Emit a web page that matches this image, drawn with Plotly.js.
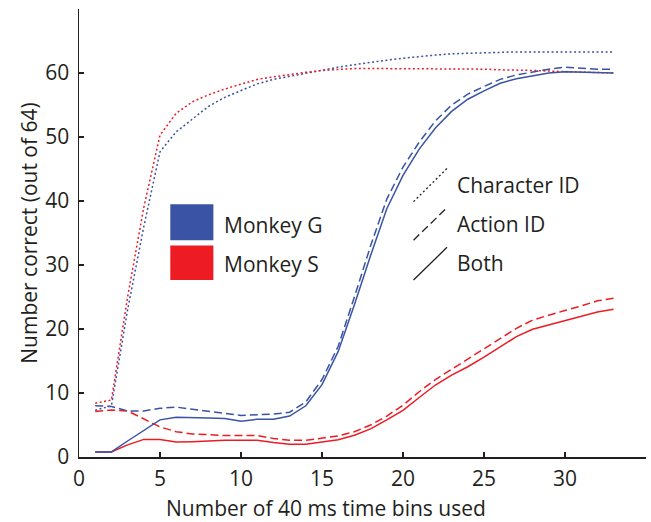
<!DOCTYPE html>
<html>
<head>
<meta charset="utf-8">
<script src="https://cdn.plot.ly/plotly-3.0.1.min.js"></script>
<style>html,body{margin:0;padding:0;background:#fff;}#chart{width:651px;height:522px;}</style>
</head>
<body>
<div id="chart"></div>
<script>
const bins = [1,2,3,4,5,6,7,8,9,10,11,12,13,14,15,16,17,18,19,20,21,22,23,24,25,26,27,28,29,30,31,32,33];

const gChar = [7.3,8.0,23,36,47.7,50.8,52.8,54.8,56.2,57.3,58.3,59.0,59.5,60.0,60.4,60.9,61.3,61.7,62.0,62.3,62.6,62.8,63.0,63.1,63.2,63.3,63.3,63.3,63.3,63.3,63.3,63.3,63.3];
const gAction = [8.0,7.9,7.2,7.2,7.6,7.8,7.45,7.1,6.8,6.5,6.6,6.7,7.0,8.6,12.1,17.3,25.0,33.0,40.3,45.3,49.2,52.5,55.0,56.7,57.9,59.0,59.7,60.2,60.6,60.9,60.7,60.6,60.6];
const gBoth = [0.8,0.8,2.5,4.2,5.8,6.2,6.2,6.1,6.0,5.6,5.9,5.9,6.4,8.0,11.3,16.5,23.8,31.5,38.8,44.0,48.1,51.4,54.0,55.9,57.2,58.4,59.1,59.6,60.0,60.2,60.1,60.0,60.0];

const sChar = [8.4,8.9,25,39,50.3,53.7,55.5,56.6,57.5,58.3,59.0,59.4,59.8,60.1,60.4,60.6,60.7,60.7,60.7,60.7,60.7,60.7,60.6,60.6,60.6,60.5,60.5,60.4,60.3,60.2,60.1,60.0,60.0];
const sAction = [7.1,7.35,7.2,6.0,4.7,3.95,3.6,3.5,3.35,3.35,3.35,2.9,2.6,2.6,2.9,3.3,3.95,5.0,6.4,8.1,10.2,12.1,13.7,15.3,17.0,18.5,20.1,21.4,22.2,22.9,23.6,24.4,24.8];
const sBoth = [0.8,0.8,1.9,2.75,2.75,2.35,2.4,2.55,2.6,2.6,2.6,2.25,2.0,2.0,2.3,2.7,3.4,4.4,5.8,7.3,9.3,11.25,12.8,14.1,15.6,17.2,18.8,19.95,20.6,21.3,21.9,22.65,23.1];

const xTicks = [0,5,10,15,20,25,30,35];
const xTickText = ['0','5','10','15','20','25','30',''];
const yTicks = [0,10,20,30,40,50,60,70];
const yTickText = ['0','10','20','30','40','50','60',''];

const xTitle = 'Number of 40 ms time bins used';
const yTitle = 'Number correct (out of 64)';
const monkeys = ['Monkey G','Monkey S'];
const measures = ['Character ID','Action ID','Both'];

const BLUE = '#3a53a4';
const RED = '#ed1c24';
const INK = '#231f20';
const DOT = '2px,2.5px';
const DASH = '8px,4px';
const FAM = '"Open Sans", "Noto Sans", sans-serif';
const FS = 21;

function tr(y, color, dash) {
  return {x: bins, y: y, mode: 'lines', line: {color: color, width: 1.5, dash: dash}, hoverinfo: 'skip', showlegend: false};
}

const data = [
  tr(gChar, BLUE, DOT), tr(sChar, RED, DOT),
  tr(sAction, RED, DASH), tr(sBoth, RED, 'solid'),
  tr(gAction, BLUE, DASH), tr(gBoth, BLUE, 'solid')
];

const txt = {family: FAM, size: FS, color: INK};

function label(x, y, text, anchor) {
  return {xref: 'paper', yref: 'paper', x: x, y: y, text: text, showarrow: false, xanchor: anchor, yanchor: 'middle', font: txt};
}

const layout = {
  width: 651, height: 522,
  margin: {l: 79, r: 5, t: 9, b: 65},
  paper_bgcolor: '#fff', plot_bgcolor: '#fff',
  font: txt,
  showlegend: false,
  xaxis: {
    range: [0, 35], tickvals: xTicks, ticktext: xTickText,
    ticks: 'inside', ticklen: 5, tickwidth: 1.2, tickcolor: INK,
    showline: true, linecolor: INK, linewidth: 1.5, showgrid: false, zeroline: false,
    tickfont: txt, ticklabelstandoff: 2
  },
  yaxis: {
    range: [0, 70], tickvals: yTicks, ticktext: yTickText,
    ticks: 'inside', ticklen: 5, tickwidth: 1.2, tickcolor: INK,
    showline: true, linecolor: INK, linewidth: 1.5, showgrid: false, zeroline: false,
    tickfont: txt, ticklabelstandoff: 4,
    title: {text: yTitle, font: txt, standoff: 2}
  },
  shapes: [
    {type: 'rect', xref: 'paper', yref: 'paper', x0: 0.161, x1: 0.237, y0: 0.484, y1: 0.564, fillcolor: BLUE, line: {width: 0}},
    {type: 'rect', xref: 'paper', yref: 'paper', x0: 0.161, x1: 0.237, y0: 0.395, y1: 0.472, fillcolor: RED, line: {width: 0}},
    {type: 'line', xref: 'paper', yref: 'paper', x0: 0.590, y0: 0.570, x1: 0.649, y1: 0.644, line: {color: INK, width: 1.3, dash: DOT}},
    {type: 'line', xref: 'paper', yref: 'paper', x0: 0.590, y0: 0.484, x1: 0.646, y1: 0.553, line: {color: INK, width: 1.3, dash: DASH}},
    {type: 'line', xref: 'paper', yref: 'paper', x0: 0.590, y0: 0.395, x1: 0.649, y1: 0.468, line: {color: INK, width: 1.3}}
  ],
  annotations: [
    label(0.436, -0.114, xTitle, 'center'),
    label(0.253, 0.518, monkeys[0], 'left'),
    label(0.253, 0.430, monkeys[1], 'left'),
    label(0.663, 0.607, measures[0], 'left'),
    label(0.663, 0.520, measures[1], 'left'),
    label(0.663, 0.432, measures[2], 'left')
  ]
};

Plotly.newPlot('chart', data, layout, {displayModeBar: false, staticPlot: true});
</script>
</body>
</html>
